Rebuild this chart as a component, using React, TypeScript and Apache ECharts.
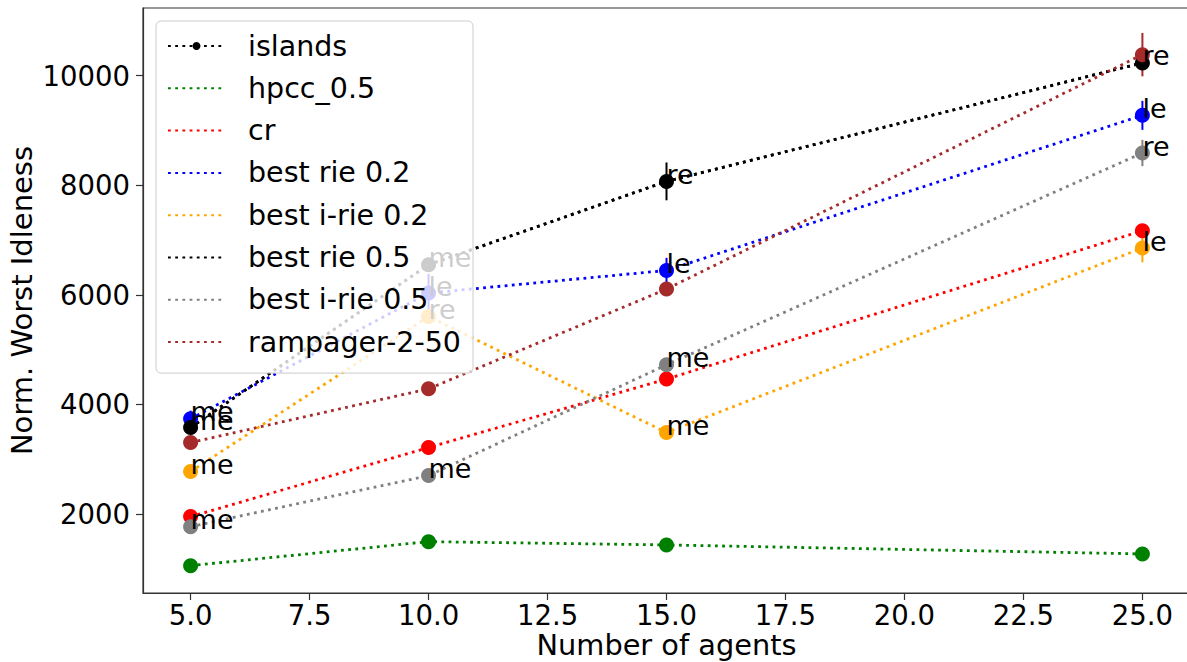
import React, { useEffect, useRef } from "react";
import * as echarts from "echarts";

const agents = [5, 10, 15, 25];
const xTicks = [5, 7.5, 10, 12.5, 15, 17.5, 20, 22.5, 25];
const yTicks = [2000, 4000, 6000, 8000, 10000];

const islands = [3578, 6549, 8070, 10232];
const hpcc = [1058, 1496, 1436, 1272];
const cr = [1953, 3213, 4462, 7170];
const bestRie02 = [3737, 6032, 6445, 9275];
const bestIrie02 = [2775, 5605, 3487, 6854];
const bestRie05 = [3578, 6549, 8070, 10232];
const bestIrie05 = [1770, 2701, 4723, 8588];
const rampager = [3304, 4285, 6105, 10383];

const rie02Err = [150, 350, 230, 265];
const irie02Err = [0, 0, 0, 260];
const rie05Err = [0, 0, 345, 0];
const irie05Err = [0, 0, 0, 240];
const rampagerErr = [0, 0, 0, 395];

const rie02Labels = ["me", "le", "le", "le"];
const irie02Labels = ["me", "re", "me", "le"];
const rie05Labels = ["me", "me", "re", "re"];
const irie05Labels = ["me", "me", "me", "re"];

const FONT = "DejaVu Sans";

type S = { name: string; data: number[]; color: string; err?: number[]; labels?: string[]; small?: boolean };

const seriesDefs: S[] = [
  { name: "islands", data: islands, color: "#000000", small: true },
  { name: "hpcc_0.5", data: hpcc, color: "#008000" },
  { name: "cr", data: cr, color: "#ff0000" },
  { name: "best rie 0.2", data: bestRie02, color: "#0000ff", err: rie02Err, labels: rie02Labels },
  { name: "best i-rie 0.2", data: bestIrie02, color: "#ffa500", err: irie02Err, labels: irie02Labels },
  { name: "best rie 0.5", data: bestRie05, color: "#000000", err: rie05Err, labels: rie05Labels },
  { name: "best i-rie 0.5", data: bestIrie05, color: "#808080", err: irie05Err, labels: irie05Labels },
  { name: "rampager-2-50", data: rampager, color: "#a52a2a", err: rampagerErr },
];

export default function App() {
  const ref = useRef<HTMLDivElement>(null);
  useEffect(() => {
    if (!ref.current) return;
    const chart = echarts.init(ref.current, null, { renderer: "svg" });
    const series: any[] = [];
    seriesDefs.forEach((d) => {
      if (d.err) {
        const errData = agents
          .map((x, i) => [x, d.data[i] - d.err![i], d.data[i] + d.err![i], d.err![i]])
          .filter((r) => r[3] > 0);
        series.push({
          type: "custom",
          name: "err " + d.name,
          data: errData,
          silent: true,
          z: 2,
          renderItem: (params: any, api: any) => {
            const p1 = api.coord([api.value(0), api.value(1)]);
            const p2 = api.coord([api.value(0), api.value(2)]);
            return {
              type: "line",
              shape: { x1: p1[0], y1: p1[1], x2: p2[0], y2: p2[1] },
              style: { stroke: d.color, lineWidth: 2 },
            };
          },
        });
      }
    });
    seriesDefs.forEach((d) => {
      const labels = d.labels;
      series.push({
        type: "line",
        name: d.name,
        data: agents.map((x, i) => [x, d.data[i]]),
        symbol: "circle",
        symbolSize: d.small ? 8 : 15,
        showAllSymbol: true,
        color: d.color,
        itemStyle: { color: d.color },
        lineStyle: { color: d.color, width: 2.8, type: [2.8, 4.4] },
        emphasis: { disabled: true },
        z: 3,
        label: labels
          ? {
              show: true,
              formatter: (p: any) => labels[p.dataIndex],
              position: [7.5, 14],
              align: "left",
              verticalAlign: "bottom",
              fontSize: 27,
              lineHeight: 27,
              fontFamily: FONT,
              color: "#000",
            }
          : { show: false },
      });
    });
    chart.setOption({
      animation: false,
      grid: {
        left: 143,
        top: 8,
        width: 1047,
        height: 585,
        containLabel: false,
        outerBoundsMode: "none",
        show: true,
        borderColor: "#333",
        borderWidth: 1.2,
        backgroundColor: "transparent",
      },
      legend: {
        orient: "vertical",
        left: 156,
        top: 21,
        data: seriesDefs.map((d) => ({
          name: d.name,
          itemStyle: { opacity: d.small ? 1 : 0 },
        })),
        itemWidth: 57,
        itemHeight: 10,
        itemGap: 12.3,
        padding: [10, 12, 16, 11],
        backgroundColor: "rgba(255,255,255,0.8)",
        borderColor: "#cccccc",
        borderWidth: 1,
        borderRadius: 5,
        selectedMode: false,
        textStyle: {
          fontSize: 28.5,
          lineHeight: 30,
          fontFamily: FONT,
          color: "#000",
          padding: [0, 0, 0, 18],
        },
      },
      xAxis: {
        type: "value",
        min: 4,
        max: 26,
        name: "Number of agents",
        nameLocation: "middle",
        nameGap: 38,
        nameMoveOverlap: false,
        nameTextStyle: { fontSize: 28.8, lineHeight: 28, fontFamily: FONT, color: "#000" },
        axisLine: { show: true, onZero: false, lineStyle: { color: "#333", width: 1.2 } },
        axisTick: { show: true, length: 7, customValues: xTicks, lineStyle: { color: "#333", width: 1.2 } },
        axisLabel: {
          customValues: xTicks,
          formatter: (v: number) => v.toFixed(1),
          fontSize: 27.5,
          lineHeight: 26,
          fontFamily: FONT,
          color: "#000",
          margin: 9,
        },
        splitLine: { show: false },
      },
      yAxis: {
        type: "value",
        min: 559,
        max: 11234,
        name: "Norm. Worst Idleness",
        nameLocation: "middle",
        nameGap: 107,
        nameMoveOverlap: false,
        nameRotate: 90,
        nameTextStyle: { fontSize: 29, fontFamily: FONT, color: "#000" },
        axisLine: { show: true, lineStyle: { color: "#333", width: 1.2 } },
        axisTick: { show: true, length: 7, customValues: yTicks, lineStyle: { color: "#333", width: 1.2 } },
        axisLabel: {
          customValues: yTicks,
          formatter: (v: number) => String(Math.round(v)),
          fontSize: 27.5,
          fontFamily: FONT,
          color: "#000",
          margin: 13,
        },
        splitLine: { show: false },
      },
      series,
    });
    return () => chart.dispose();
  }, []);
  return <div ref={ref} style={{ position: "fixed", left: 0, top: 0, width: 1187, height: 662, background: "#fff" }} />;
}
